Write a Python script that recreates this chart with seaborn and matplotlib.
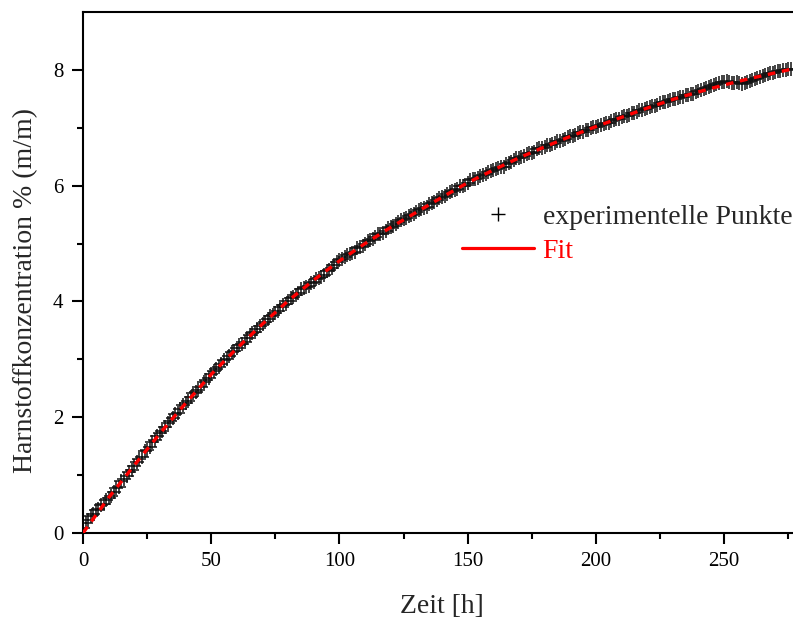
import numpy as np
import pandas as pd
import matplotlib
matplotlib.use("Agg")
import matplotlib.pyplot as plt
from matplotlib.lines import Line2D
import seaborn as sns

# experimental points, read every 1 h from the picture (0 .. 276 h)
zeit_exp = list(range(0, 277))
konz_exp = [
    0.08, 0.18, 0.22, 0.30, 0.33, 0.40, 0.42, 0.49, 0.50, 0.57,
    0.60, 0.64, 0.71, 0.78, 0.80, 0.89, 0.94, 0.98, 1.05, 1.08,
    1.15, 1.22, 1.27, 1.32, 1.41, 1.43, 1.49, 1.57, 1.60, 1.67,
    1.72, 1.76, 1.83, 1.90, 1.94, 1.98, 2.06, 2.08, 2.14, 2.21,
    2.24, 2.28, 2.35, 2.41, 2.44, 2.47, 2.52, 2.60, 2.64, 2.68,
    2.74, 2.80, 2.83, 2.86, 2.92, 2.98, 3.01, 3.05, 3.12, 3.14,
    3.19, 3.24, 3.27, 3.30, 3.36, 3.42, 3.46, 3.48, 3.53, 3.58,
    3.61, 3.64, 3.69, 3.75, 3.77, 3.80, 3.84, 3.90, 3.93, 3.96,
    4.01, 4.06, 4.08, 4.11, 4.15, 4.21, 4.24, 4.25, 4.27, 4.31,
    4.33, 4.38, 4.40, 4.42, 4.46, 4.52, 4.55, 4.58, 4.63, 4.69,
    4.72, 4.73, 4.76, 4.80, 4.82, 4.84, 4.86, 4.92, 4.94, 4.96,
    5.00, 5.04, 5.06, 5.08, 5.11, 5.16, 5.17, 5.19, 5.22, 5.27,
    5.28, 5.30, 5.33, 5.38, 5.41, 5.42, 5.44, 5.48, 5.49, 5.51,
    5.54, 5.58, 5.59, 5.61, 5.63, 5.68, 5.70, 5.72, 5.75, 5.79,
    5.80, 5.82, 5.85, 5.89, 5.90, 5.92, 5.95, 5.99, 6.00, 6.02,
    6.05, 6.09, 6.11, 6.12, 6.14, 6.17, 6.18, 6.20, 6.23, 6.26,
    6.27, 6.29, 6.31, 6.33, 6.33, 6.38, 6.40, 6.41, 6.44, 6.47,
    6.48, 6.49, 6.52, 6.55, 6.56, 6.57, 6.59, 6.63, 6.65, 6.65,
    6.67, 6.70, 6.71, 6.72, 6.74, 6.77, 6.78, 6.79, 6.81, 6.84,
    6.85, 6.86, 6.88, 6.91, 6.92, 6.93, 6.97, 6.97, 6.99, 7.01,
    7.02, 7.03, 7.05, 7.07, 7.08, 7.09, 7.11, 7.14, 7.15, 7.16,
    7.18, 7.20, 7.21, 7.22, 7.26, 7.26, 7.28, 7.30, 7.31, 7.32,
    7.34, 7.36, 7.37, 7.38, 7.40, 7.43, 7.45, 7.45, 7.46, 7.48,
    7.49, 7.50, 7.51, 7.53, 7.54, 7.56, 7.57, 7.58, 7.59, 7.62,
    7.63, 7.65, 7.67, 7.69, 7.70, 7.73, 7.74, 7.75, 7.77, 7.79,
    7.79, 7.80, 7.79, 7.77, 7.78, 7.79, 7.77, 7.76, 7.77, 7.79,
    7.80, 7.82, 7.84, 7.86, 7.88, 7.89, 7.91, 7.93, 7.94, 7.95,
    7.96, 7.98, 7.98, 7.99, 8.00, 8.02, 8.02,
]

# fitted curve, read every 10 h
zeit_fit = list(range(0, 290, 10))
konz_fit = [
    0.00, 0.61, 1.17, 1.72, 2.24, 2.74, 3.19, 3.61, 4.01, 4.37,
    4.70, 5.00, 5.28, 5.54, 5.80, 6.05, 6.27, 6.48, 6.67, 6.85,
    7.02, 7.18, 7.34, 7.49, 7.62, 7.74, 7.85, 7.95, 8.05,
]

x_ticks = [0, 50, 100, 150, 200, 250]
y_ticks = [0, 2, 4, 6, 8]

df_exp = pd.DataFrame({"Zeit": zeit_exp, "Konz": konz_exp})
df_fit = pd.DataFrame({"Zeit": zeit_fit, "Konz": konz_fit})

sns.set_style("ticks")
plt.rcParams["font.family"] = ["Liberation Serif", "DejaVu Serif"]

fig = plt.figure(figsize=(7.93, 6.22), dpi=100)
ax = fig.add_axes([83 / 793, 89 / 622, 718 / 793, 521 / 622])

sns.scatterplot(data=df_exp, x="Zeit", y="Konz", marker="+", s=105,
                color="#111111", linewidth=1.1, ax=ax, zorder=2)
# fit drawn over the points; the point cloud breaks it up into pieces
sns.lineplot(data=df_fit, x="Zeit", y="Konz", color="red", linewidth=2.4,
             ax=ax, zorder=3, dashes=False)
ax.lines[-1].set_dashes((2.3, 2.0))

ax.set_xlim(0, 280)
ax.set_ylim(0, 9)
ax.set_xticks(x_ticks)
ax.set_yticks(y_ticks)
ax.set_xticks(np.arange(25, 280, 50), minor=True)
ax.set_yticks(np.arange(1, 9, 2), minor=True)
ax.tick_params(which="major", length=8, width=1.5, labelsize=15, pad=6,
               direction="out", color="black", labelcolor="black")
ax.tick_params(which="minor", length=4.5, width=1.5, direction="out",
               color="black")
for side in ["left", "bottom", "top"]:
    ax.spines[side].set_linewidth(1.5)
    ax.spines[side].set_color("black")
ax.spines["right"].set_visible(False)

ax.set_xlabel("Zeit [h]", fontsize=20, labelpad=16)
ax.set_ylabel("Harnstoffkonzentration % (m/m)", fontsize=20)
ax.yaxis.set_label_coords(-0.062, 0.466)

handles = [
    Line2D([], [], linestyle="none", marker="+", color="black",
           markersize=10, markeredgewidth=1.0),
    Line2D([], [], color="red", linewidth=2.3),
]
leg = ax.legend(handles, ["experimentelle Punkte", "Fit"], frameon=False,
                fontsize=20, loc="center left",
                bbox_to_anchor=(462 / 793, 1 - 234 / 622),
                bbox_transform=fig.transFigure, borderpad=0,
                borderaxespad=0, handlelength=2.6, handletextpad=0.3,
                labelspacing=0.3)
leg.get_texts()[1].set_color("red")

fig.savefig("out.png", dpi=100)
